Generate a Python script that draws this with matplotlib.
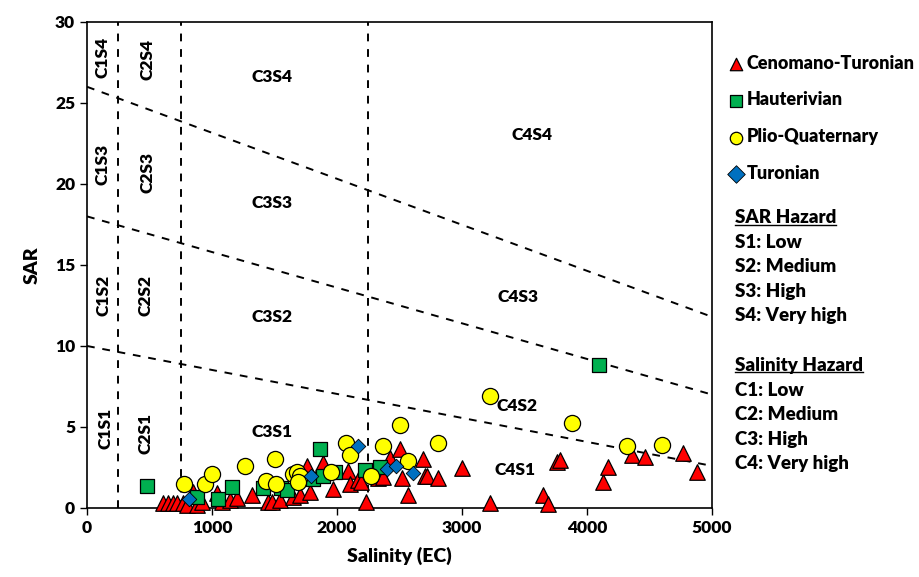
import matplotlib.pyplot as plt

plt.rcParams['font.family'] = ['Lato', 'DejaVu Sans']
plt.rcParams['font.weight'] = 'bold'

# Salinity (EC) and SAR
ceno_ec = [610, 650, 690, 720, 770, 800, 850, 880, 920, 1040, 1080, 1140, 1200,
           1320, 1450, 1480, 1540, 1650, 1700, 1760, 1780, 1890, 1970, 2090, 2100,
           2170, 2190, 2230, 2330, 2370, 2425, 2500, 2520, 2565, 2690, 2700, 2720,
           2810, 3000, 3225, 3650, 3690, 3760, 3785, 4130, 4170, 4360, 4465, 4770, 4880]
ceno_sar = [0.3, 0.3, 0.3, 0.3, 0.3, 0.2, 1.0, 0.2, 0.4, 0.9, 0.4, 0.5, 0.6,
            0.8, 0.4, 0.4, 0.5, 0.7, 0.8, 2.6, 1.0, 2.8, 1.15, 2.3, 1.5,
            1.7, 1.6, 0.35, 1.85, 1.9, 3.1, 3.65, 1.85, 0.8, 3.0, 2.0, 2.0,
            1.85, 2.45, 0.3, 0.8, 0.25, 2.85, 2.95, 1.6, 2.5, 3.3, 3.15, 3.4, 2.2]

haut_ec = [480, 880, 1050, 1160, 1410, 1550, 1600, 1810, 1865, 1890, 1980, 2220, 2340, 4100]
haut_sar = [1.35, 0.7, 0.55, 1.3, 1.25, 1.25, 1.1, 1.8, 3.65, 2.0, 2.2, 2.35, 2.55, 8.8]

plio_ec = [776, 944, 1000, 1264, 1432, 1500, 1510, 1650, 1680, 1700, 1690, 1950, 2075,
           2100, 2270, 2370, 2500, 2570, 2810, 3220, 3880, 4320, 4600]
plio_sar = [1.5, 1.5, 2.1, 2.6, 1.65, 3.0, 1.5, 2.1, 2.2, 2.0, 1.6, 2.2, 4.0,
            3.3, 2.0, 3.8, 5.15, 2.9, 4.0, 6.9, 5.25, 3.85, 3.9]

turo_ec = [815, 1795, 2170, 2400, 2475, 2610]
turo_sar = [0.55, 1.95, 3.85, 2.4, 2.6, 2.15]

# zone boundaries
ec_limits = [250, 750, 2250]
sar_lines = [(10, 2.6), (18, 7.0), (26, 11.8)]

zones = [("C1S4", 120, 27.8, 90), ("C2S4", 480, 27.7, 90), ("C3S4", 1480, 26.6, 0),
         ("C4S4", 3560, 23.0, 0), ("C1S3", 120, 21.2, 90), ("C2S3", 480, 20.7, 90),
         ("C3S3", 1480, 18.8, 0), ("C4S3", 3450, 13.0, 0), ("C1S2", 128, 13.1, 90),
         ("C2S2", 464, 13.1, 90), ("C3S2", 1480, 11.8, 0), ("C4S2", 3440, 6.3, 0),
         ("C1S1", 144, 4.9, 90), ("C2S1", 464, 4.6, 90), ("C3S1", 1480, 4.7, 0),
         ("C4S1", 3424, 2.35, 0)]

fig = plt.figure(figsize=(9.2, 5.77), dpi=100)
ax = fig.add_axes([0.0946, 0.1196, 0.6793, 0.8423])

for x in ec_limits:
    ax.plot([x, x], [0, 30], color='black', ls=(0, (4, 4)), lw=1.4, zorder=1)
for y0, y1 in sar_lines:
    ax.plot([0, 5000], [y0, y1], color='black', ls=(0, (4, 4)), lw=1.4, zorder=1)

for name, x, y, rot in zones:
    ax.text(x, y, name, ha='center', va='center', rotation=rot, fontsize=12.5,
            fontweight='heavy', zorder=2)

h1 = ax.scatter(ceno_ec, ceno_sar, marker='^', s=125, c='#FF0000', edgecolors='black',
                linewidths=0.9, zorder=3, clip_on=False)
h2 = ax.scatter(haut_ec, haut_sar, marker='s', s=110, c='#00B050', edgecolors='black',
                linewidths=0.9, zorder=4, clip_on=False)
h3 = ax.scatter(plio_ec, plio_sar, marker='o', s=135, c='#FFFF00', edgecolors='black',
                linewidths=0.9, zorder=5, clip_on=False)
h4 = ax.scatter(turo_ec, turo_sar, marker='D', s=55, c='#0070C0', edgecolors='black',
                linewidths=0.6, zorder=6, clip_on=False)

ax.set_xlim(0, 5000)
ax.set_ylim(0, 30)
ax.set_xticks(range(0, 5001, 1000))
ax.set_yticks(range(0, 31, 5))
ax.tick_params(direction='out', length=5, width=1, labelsize=12.5)
for lab in ax.get_xticklabels() + ax.get_yticklabels():
    lab.set_fontweight('heavy')
for sp in ax.spines.values():
    sp.set_linewidth(1.2)
ax.set_xlabel("Salinity (EC)", fontsize=14, fontweight='heavy', labelpad=8)
ax.set_ylabel("SAR", fontsize=14, fontweight='heavy', labelpad=10)

leg = fig.legend([h1, h2, h3, h4],
                 ["Cenomano-Turonian", "Hauterivian", "Plio-Quaternary", "Turonian"],
                 loc='upper left', bbox_to_anchor=(0.782, 0.918), frameon=False,
                 handletextpad=0.1, labelspacing=1.1, borderaxespad=0,
                 handlelength=1.0, scatterpoints=1, prop={'weight': 'heavy', 'size': 13})
for hnd in leg.legend_handles:
    hnd.set_sizes([80])

# hazard key
key = [("SAR Hazard", 218, True), ("S1: Low", 243, False), ("S2: Medium", 267, False),
       ("S3: High", 292, False), ("S4: Very high", 316, False),
       ("Salinity Hazard", 365, True), ("C1: Low", 390, False), ("C2: Medium", 414, False),
       ("C3: High", 439, False), ("C4: Very high", 464, False)]
fig.canvas.draw()
renderer = fig.canvas.get_renderer()
for txt, ypx, head in key:
    t = fig.text(735 / 920, 1 - ypx / 577, txt, ha='left', va='center', fontsize=13.5,
                 fontweight='heavy')
    if head:
        bb = t.get_window_extent(renderer).transformed(fig.transFigure.inverted())
        fig.add_artist(plt.Line2D([bb.x0, bb.x1], [bb.y0 + 0.002, bb.y0 + 0.002],
                                  transform=fig.transFigure, color='black', lw=1))

fig.savefig("out.png", dpi=100)
